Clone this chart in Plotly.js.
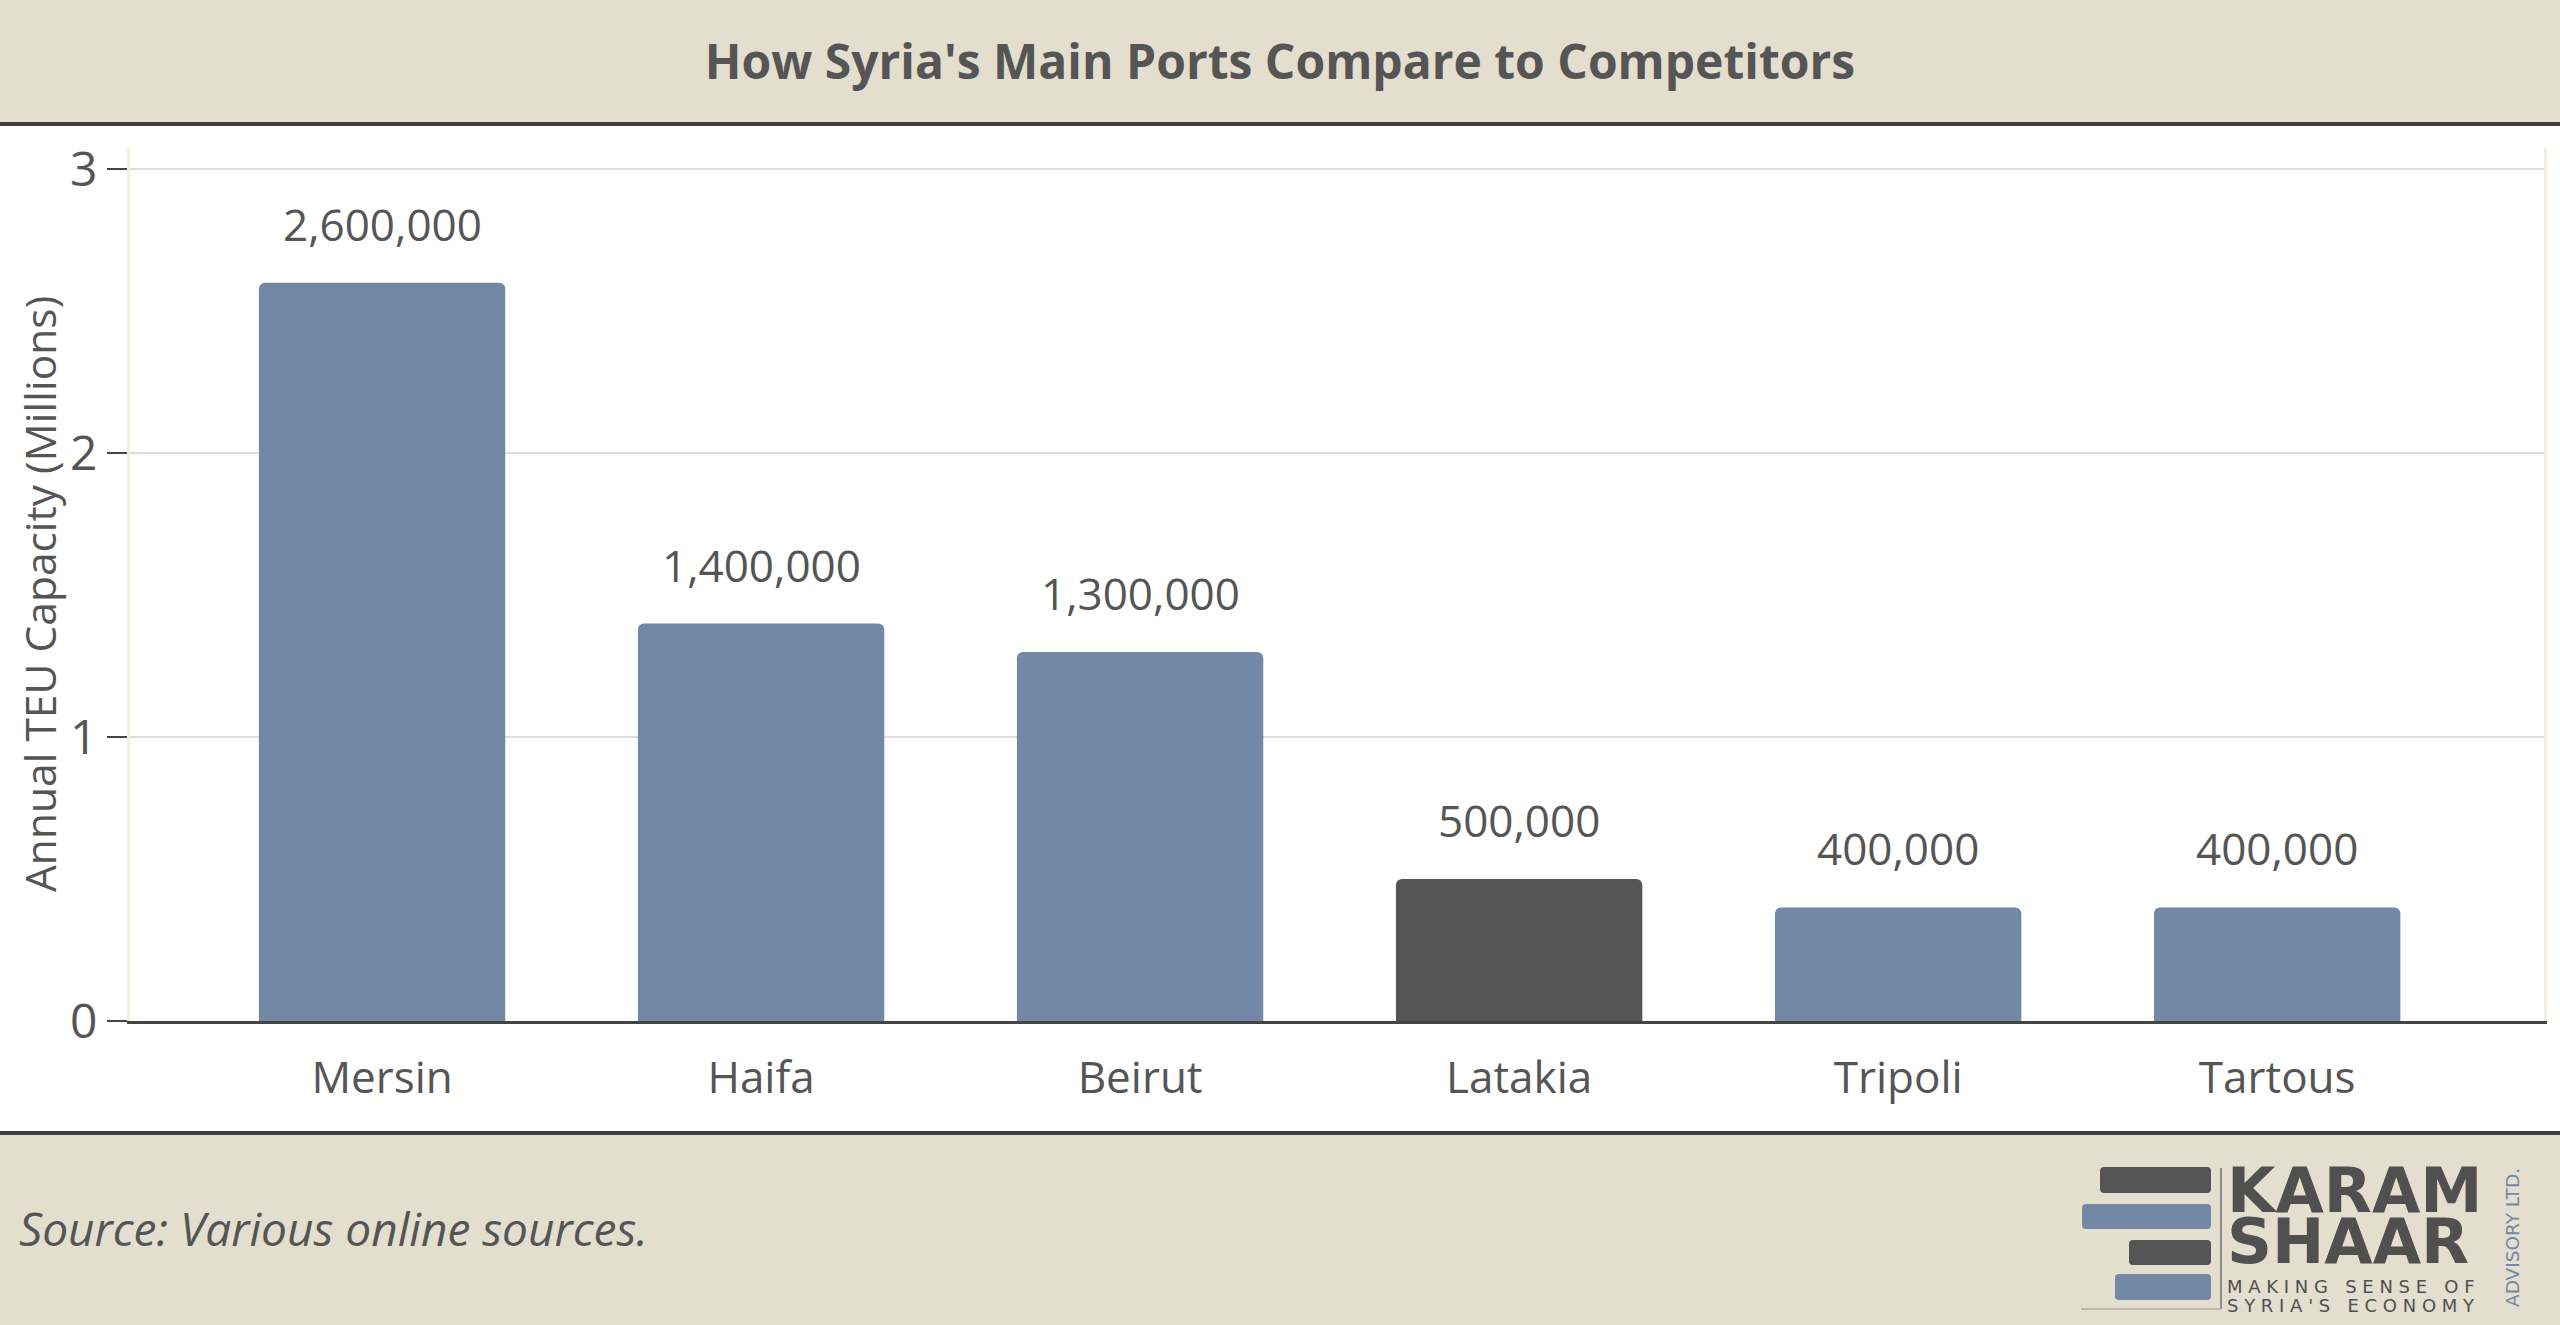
<!DOCTYPE html>
<html>
<head>
<meta charset="utf-8">
<script src="https://cdn.plot.ly/plotly-3.0.1.min.js"></script>
<style>
  html, body { margin: 0; padding: 0; background: #e3dece; }
  #chart { width: 2560px; height: 1325px; }
</style>
</head>
<body>
<div id="chart"></div>
<script>
// ---- Data ----
const ports = ["Mersin", "Haifa", "Beirut", "Latakia", "Tripoli", "Tartous"];
const teuCapacity = [2600000, 1400000, 1300000, 500000, 400000, 400000];
const barColors = ["#7388a5", "#7388a5", "#7388a5", "#555555", "#7388a5", "#7388a5"];
const yTickVals = [0, 1, 2, 3];
const yTickText = ["0", "1", "2", "3"];
const chartTitle = "How Syria's Main Ports Compare to Competitors";
const yAxisTitle = "Annual TEU Capacity (Millions)";
const sourceText = "Source: Various online sources.";

// ---- Geometry helpers (page pixels -> paper units) ----
const W = 2560, H = 1325, ML = 130, MR = 16, MT = 148, MB = 304;
const PW = W - ML - MR, PH = H - MT - MB;
const px = x => (x - ML) / PW;
const py = y => (H - MB - y) / PH;
function rr(x0, y0, x1, y1, r) {
  return `M${px(x0 + r)},${py(y0)} L${px(x1 - r)},${py(y0)} Q${px(x1)},${py(y0)} ${px(x1)},${py(y0 + r)} ` +
         `L${px(x1)},${py(y1 - r)} Q${px(x1)},${py(y1)} ${px(x1 - r)},${py(y1)} ` +
         `L${px(x0 + r)},${py(y1)} Q${px(x0)},${py(y1)} ${px(x0)},${py(y1 - r)} ` +
         `L${px(x0)},${py(y0 + r)} Q${px(x0)},${py(y0)} ${px(x0 + r)},${py(y0)} Z`;
}

const TXT = "#555555";
const FONT = "Open Sans";

const valuesM = teuCapacity.map(v => v / 1e6);

const trace = {
  type: "bar",
  x: ports,
  y: valuesM,
  width: 0.65,
  marker: { color: barColors, cornerradius: 6, line: { width: 0 } },
  hoverinfo: "skip"
};

// value labels above bars
const valueAnnotations = ports.map((p, i) => ({
  x: p, y: valuesM[i], xref: "x", yref: "y",
  text: teuCapacity[i].toLocaleString("en-US"),
  showarrow: false, yanchor: "bottom", yshift: 27,
  font: { family: FONT, size: 44, color: TXT }
}));

// logo wordmark
const sp = s => s.split("").join("\u00a0").replace(/\u00a0 \u00a0/g, "\u00a0\u00a0\u00a0");
const logoText = [
  { text: "KARAM", x: 2226, y: 1190, size: 62.5, weight: 700 },
  { text: "SHAAR", x: 2226, y: 1241, size: 62.5, weight: 700 },
  { text: sp("MAKING SENSE OF"), x: 2226, y: 1286.5, size: 18, weight: 400 },
  { text: sp("SYRIA'S ECONOMY"), x: 2226, y: 1305, size: 18, weight: 400 }
].map(t => ({
  x: px(t.x), y: py(t.y), xref: "paper", yref: "paper",
  xanchor: "left", yanchor: "middle", showarrow: false,
  text: t.text, borderpad: 0,
  font: { family: "DejaVu Sans", size: t.size, weight: t.weight, color: "#505050" }
}));

const otherAnnotations = [
  {
    // y axis title
    x: px(39), y: py(594), xref: "paper", yref: "paper",
    xanchor: "center", yanchor: "middle", showarrow: false, textangle: -90,
    text: yAxisTitle, borderpad: 0,
    font: { family: FONT, size: 42.5, color: TXT }
  },
  {
    x: px(17), y: py(1228), xref: "paper", yref: "paper",
    xanchor: "left", yanchor: "middle", showarrow: false,
    text: sourceText,
    font: { family: FONT, size: 46, style: "italic", color: TXT }
  },
  {
    x: px(2512), y: py(1238), xref: "paper", yref: "paper",
    xanchor: "center", yanchor: "middle", showarrow: false, textangle: -90,
    text: "ADVISORY LTD.", borderpad: 0,
    font: { family: "DejaVu Sans", size: 18.5, color: "#7388a5" }
  }
];

const shapes = [
  // white body band
  { type: "rect", xref: "paper", yref: "paper", x0: px(0), x1: px(W), y0: py(124), y1: py(1133),
    fillcolor: "#ffffff", line: { width: 0 }, layer: "below" },
  // header rule
  { type: "line", xref: "paper", yref: "paper", x0: px(0), x1: px(W), y0: py(124), y1: py(124),
    line: { color: "#3f3f3f", width: 4 } },
  // footer rule
  { type: "line", xref: "paper", yref: "paper", x0: px(0), x1: px(W), y0: py(1133), y1: py(1133),
    line: { color: "#3f3f3f", width: 4 } },
  // logo bars
  { type: "path", xref: "paper", yref: "paper", path: rr(2100, 1167, 2211, 1193, 4), fillcolor: "#555555", line: { width: 0 } },
  { type: "path", xref: "paper", yref: "paper", path: rr(2082, 1204, 2211, 1229, 4), fillcolor: "#7388a5", line: { width: 0 } },
  { type: "path", xref: "paper", yref: "paper", path: rr(2129, 1240, 2211, 1265, 4), fillcolor: "#555555", line: { width: 0 } },
  { type: "path", xref: "paper", yref: "paper", path: rr(2115, 1274, 2211, 1300, 4), fillcolor: "#7388a5", line: { width: 0 } },
  // logo frame lines
  { type: "line", xref: "paper", yref: "paper", x0: px(2221), x1: px(2221), y0: py(1168), y1: py(1309),
    line: { color: "#8c8c8c", width: 2 } },
  { type: "line", xref: "paper", yref: "paper", x0: px(2081), x1: px(2221), y0: py(1309), y1: py(1309),
    line: { color: "#bdb8a8", width: 2 } }
];

const layout = {
  width: W, height: H,
  margin: { l: ML, r: MR, t: MT, b: MB, pad: 0 },
  paper_bgcolor: "#e3dece",
  plot_bgcolor: "#ffffff",
  showlegend: false,
  title: {
    text: "<b>" + chartTitle + "</b>",
    x: 0.5, xref: "container", xanchor: "center",
    y: 1 - 62 / H, yref: "container", yanchor: "middle",
    font: { family: FONT, size: 48, color: TXT }
  },
  xaxis: {
    type: "category",
    range: [-0.665, 5.704],
    showline: true, linecolor: "#444444", linewidth: 3,
    ticks: "", showgrid: false, zeroline: false,
    tickfont: { family: FONT, size: 44, color: TXT },
    ticklabelstandoff: 16,
    fixedrange: true
  },
  yaxis: {
    range: [0, 3.075],
    tickvals: yTickVals, ticktext: yTickText,
    showgrid: true, gridcolor: "#dedede", gridwidth: 2,
    zeroline: false,
    showline: true, linecolor: "#f6eedb", linewidth: 3, mirror: true,
    ticks: "outside", ticklen: 20, tickcolor: "#444444", tickwidth: 2,
    tickfont: { family: FONT, size: 48, color: TXT },
    fixedrange: true
  },
  shapes: shapes,
  annotations: valueAnnotations.concat(logoText, otherAnnotations)
};

Plotly.newPlot("chart", [trace], layout, { displayModeBar: false, staticPlot: true });
</script>
</body>
</html>
